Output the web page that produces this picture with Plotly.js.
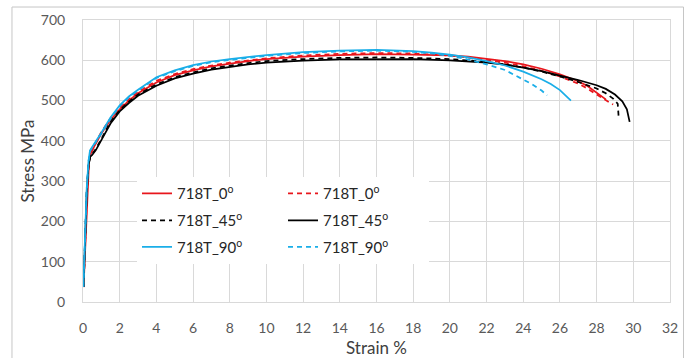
<!DOCTYPE html>
<html>
<head>
<meta charset="utf-8">
<script src="https://cdn.plot.ly/plotly-3.0.1.min.js"></script>
<style>
html,body{margin:0;padding:0;background:#fff;}
#chart{width:686px;height:358px;}
</style>
</head>
<body>
<div id="chart"></div>
<script>
// ---- data ----
const seriesNames = ["718T_0<sup>o</sup>", "718T_0<sup>o</sup>", "718T_45<sup>o</sup>", "718T_45<sup>o</sup>", "718T_90<sup>o</sup>", "718T_90<sup>o</sup>"];

const strain0Solid = [0.03,0.1,0.18,0.25,0.33,0.42,0.6,1,1.5,2,2.5,3,4,5,6,7,8,9,10,12,14,16,18,20,21,22,23,24,25,26,27,27.5,28,28.5];
const stress0Solid = [37,120,220,300,350,368,385,418,452,478,500,518,545,563,575,585,592,598,603,609,613,615,614,612,609,604,598,590,579,565,548,536,520,503];

const strain0Dash = [0.03,0.1,0.18,0.25,0.33,0.42,0.6,1,1.5,2,2.5,3,4,5,6,7,8,9,10,12,14,16,18,20,21,22,23,24,25,26,27,27.5,28,28.5,28.9];
const stress0Dash = [37,125,225,305,352,370,388,422,456,482,503,521,549,566,578,587,594,600,605,612,616,618,617,612,607,601,594,585,574,560,542,530,515,502,490];

const strain45Dash = [0.03,0.1,0.2,0.3,0.4,0.5,0.7,1,1.5,2,2.5,3,4,5,6,7,8,9,10,12,14,16,18,20,22,23,24,25,26,27,28,28.5,28.9,29.15,29.2];
const stress45Dash = [37,140,270,340,362,367,380,405,447,476,497,515,540,558,570,580,587,593,598,603,606,607,606,603,596,590,582,572,560,546,530,518,505,492,460];

const strain45Solid = [0.03,0.1,0.2,0.3,0.4,0.5,0.7,1,1.5,2,2.5,3,4,5,6,7,8,9,10,12,14,16,18,20,22,23,24,25,26,27,28,28.5,29,29.4,29.65,29.8];
const stress45Solid = [37,140,270,340,361,365,377,402,443,473,494,512,537,555,567,577,584,590,594,599,602,603,603,600,594,589,582,573,562,551,538,529,515,498,478,447];

const strain90Solid = [0.02,0.1,0.2,0.3,0.38,0.5,0.7,1,1.5,2,2.5,3,4,5,6,7,8,9,10,12,14,16,17,18,19,20,21,22,23,24,25,25.5,26,26.3,26.6];
const stress90Solid = [37,150,280,350,376,385,398,420,458,488,510,527,558,575,588,597,603,608,613,620,624,626,625,623,619,614,607,598,587,572,553,541,526,514,500];

const strain90Dash = [0.02,0.1,0.2,0.3,0.38,0.5,0.7,1,1.5,2,2.5,3,4,5,6,7,8,9,10,12,14,16,17,18,19,20,21,22,23,24,24.5,25,25.3];
const stress90Dash = [37,148,278,348,374,383,396,418,455,486,508,525,556,573,586,595,601,606,611,618,622,624,623,621,617,611,602,590,576,552,540,525,513];

const xTickVals = [0,2,4,6,8,10,12,14,16,18,20,22,24,26,28,30,32];
const yTickVals = [0,100,200,300,400,500,600,700];

// ---- styling ----
const RED = "#e8161c", BLACK = "#000000", BLUE = "#1aaee8";
const DASH = "5px,4px";
const FONT = "Lato, 'Open Sans', sans-serif";

function tr(x, y, name, color, dash, legend) {
  return {type: "scatter", mode: "lines", x: x, y: y, name: name,
          line: {color: color, width: 1.75, dash: dash}, legend: legend, hoverinfo: "skip"};
}

const data = [
  tr(strain0Solid, stress0Solid, seriesNames[0], RED, "solid", "legend"),
  tr(strain0Dash, stress0Dash, seriesNames[1], RED, DASH, "legend"),
  tr(strain45Dash, stress45Dash, seriesNames[2], BLACK, DASH, "legend2"),
  tr(strain45Solid, stress45Solid, seriesNames[3], BLACK, "solid", "legend2"),
  tr(strain90Solid, stress90Solid, seriesNames[4], BLUE, "solid", "legend3"),
  tr(strain90Dash, stress90Dash, seriesNames[5], BLUE, DASH, "legend3")
];

function leg(y) {
  return {x: 0.092, xanchor: "left", y: y, yanchor: "top", orientation: "h",
          entrywidth: 101, entrywidthmode: "pixels", bgcolor: "#ffffff", borderwidth: 0,
          traceorder: "normal", font: {family: FONT, size: 15, color: "#262626"}};
}

const axisCommon = {
  showgrid: true, gridcolor: "#d9d9d9", gridwidth: 1,
  showline: true, linecolor: "#d9d9d9", linewidth: 1, mirror: true,
  zeroline: false, ticks: "", fixedrange: true,
  tickfont: {family: FONT, size: 14, color: "#595959"}
};

const layout = {
  width: 686, height: 358,
  margin: {l: 83, r: 16, t: 20, b: 56, pad: 0},
  paper_bgcolor: "#ffffff", plot_bgcolor: "#ffffff",
  showlegend: true,
  xaxis: Object.assign({}, axisCommon, {
    range: [0, 32], tickmode: "array", tickvals: xTickVals, ticktext: xTickVals.map(String),
    ticklabelstandoff: 13,
    title: {text: "Strain %", font: {family: FONT, size: 17, color: "#404040"}, standoff: 9}
  }),
  yaxis: Object.assign({}, axisCommon, {
    range: [0, 700], tickmode: "array", tickvals: yTickVals, ticktext: yTickVals.map(String),
    ticklabelstandoff: 14,
    title: {text: "Stress MPa", font: {family: FONT, size: 17, color: "#404040"}, standoff: 1}
  }),
  legend: leg(0.4427),
  legend2: leg(0.3468),
  legend3: leg(0.2528),
  shapes: [{type: "rect", xref: "paper", yref: "paper", x0: -0.121, x1: 1.023, y0: -0.25, y1: 1.046,
            line: {color: "#c6c6c6", width: 1}, fillcolor: "rgba(0,0,0,0)", layer: "below"}]
};

Plotly.newPlot("chart", data, layout, {staticPlot: true, displayModeBar: false});
</script>
</body>
</html>
